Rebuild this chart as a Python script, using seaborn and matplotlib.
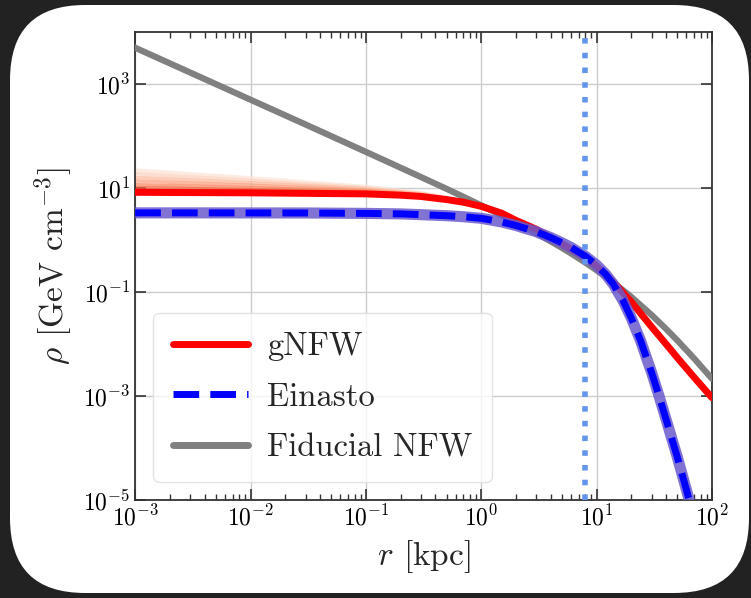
import matplotlib
matplotlib.use('Agg')
import matplotlib.pyplot as plt
from matplotlib.patches import FancyBboxPatch
from matplotlib.lines import Line2D
import seaborn as sns

# radii [kpc] and densities [GeV/cm^3]
r_nfw = [1e-3, 3e-3, 1e-2, 3e-2, 0.1, 0.3, 0.5, 1, 1.5, 2, 3, 4, 5, 6, 8, 10, 12, 15, 20, 30, 40, 50, 70, 100]
rho_nfw = [5040, 1680, 504, 168, 50.0, 16.4, 9.71, 4.68, 3.01, 2.18, 1.35, 0.947, 0.710, 0.555, 0.369,
           0.263, 0.197, 0.135, 0.0806, 0.0362, 0.0196, 0.0118, 0.00529, 0.00215]

r_gnfw = [1e-3, 3e-3, 1e-2, 3e-2, 0.1, 0.2, 0.3, 0.5, 0.7, 1, 1.5, 2, 3, 4, 5, 6, 8, 10, 12, 15, 20, 30, 40, 50, 70, 100]
rho_gnfw = [8.32, 8.22, 8.13, 7.94, 7.76, 7.33, 6.92, 6.03, 5.37, 4.47, 3.31, 2.40, 1.62, 1.12, 0.851, 0.676,
            0.468, 0.316, 0.219, 0.132, 0.0646, 0.0214, 0.0100, 0.0055, 0.00229, 0.00093]

# posterior samples of gNFW (inner part, they merge with the best fit near 1 kpc)
r_samp = [1e-3, 3e-3, 1e-2, 3e-2, 0.1, 0.3, 0.5, 1, 2]
samples = [
    [22.4, 18.9, 15.8, 13.2, 10.8, 8.18, 6.65, 4.47, 2.40],
    [19.1, 16.5, 14.2, 12.1, 10.2, 7.96, 6.55, 4.47, 2.40],
    [16.2, 14.4, 12.7, 11.2, 9.68, 7.75, 6.44, 4.47, 2.40],
    [13.8, 12.6, 11.4, 10.3, 9.18, 7.54, 6.34, 4.47, 2.40],
    [11.7, 11.0, 10.2, 9.48, 8.71, 7.34, 6.24, 4.47, 2.40],
    [10.2, 9.79, 9.33, 8.83, 8.32, 7.16, 6.15, 4.47, 2.40],
    [9.12, 8.89, 8.65, 8.32, 8.00, 7.03, 6.08, 4.47, 2.40],
]
samp_colors = ['#fde3d6', '#fcd0bc', '#fcb89c', '#fb9d7c', '#f8805c', '#f2603f', '#ea3e26']

r_ein = [1e-3, 1e-2, 3e-2, 0.1, 0.2, 0.3, 0.5, 0.7, 1, 1.5, 2, 3, 4, 5, 6, 8, 10, 12, 14, 17, 20, 24,
         30, 35, 40, 45, 50, 55, 60, 66]
rho_ein = [3.35, 3.34, 3.33, 3.27, 3.20, 3.09, 2.95, 2.82, 2.63, 2.24, 1.91, 1.45, 1.12, 0.891, 0.724,
           0.490, 0.331, 0.219, 0.141, 0.0676, 0.0316, 0.01175, 0.00282, 9.55e-4, 3.55e-4, 1.48e-4,
           6.76e-5, 3.16e-5, 1.58e-5, 7.08e-6]

r_sun = 8.0

sns.set_style('ticks')
plt.rcParams['font.family'] = 'serif'
plt.rcParams['font.serif'] = ['cmr10']
plt.rcParams['mathtext.fontset'] = 'cm'
plt.rcParams['axes.formatter.use_mathtext'] = True

fig = plt.figure(figsize=(7.51, 5.98), dpi=100)
fig.patch.set_facecolor('#222222')
card = FancyBboxPatch((10, 5), 739, 588, boxstyle='round,pad=0,rounding_size=75',
                      transform=None, facecolor='white', edgecolor='none', zorder=-5)
fig.patches.append(card)

ax = fig.add_axes([0.18, 0.164, 0.768, 0.782])
ax.set_facecolor('white')

for s, c in zip(samples, samp_colors):
    sns.lineplot(x=r_samp, y=s, ax=ax, color=c, lw=2.5, alpha=0.7, sort=False, zorder=2)

sns.lineplot(x=r_nfw, y=rho_nfw, ax=ax, color='gray', lw=4.5, sort=False, zorder=3)
sns.lineplot(x=r_gnfw, y=rho_gnfw, ax=ax, color='red', lw=5, sort=False, zorder=4)
sns.lineplot(x=r_ein, y=rho_ein, ax=ax, color='#6a5acd', lw=8, alpha=0.85, sort=False, zorder=5)
sns.lineplot(x=r_ein, y=rho_ein, ax=ax, color='blue', lw=5, linestyle='--', sort=False, zorder=6)
ax.axvline(r_sun, color='cornflowerblue', lw=4, linestyle=':', zorder=7)

ax.set_xscale('log')
ax.set_yscale('log')
ax.set_xlim(1e-3, 1e2)
ax.set_ylim(1e-5, 1e4)
ax.set_yticks([1e-5, 1e-3, 1e-1, 1e1, 1e3])
ax.grid(True, which='major', color='#cccccc', lw=1)
ax.tick_params(which='both', direction='in', top=True, right=True, colors='#333333', labelsize=17)
ax.tick_params(which='major', length=8, width=1.2)
ax.tick_params(which='minor', length=4, width=1)
ax.tick_params(axis='y', which='minor', left=False, right=False)
for sp in ax.spines.values():
    sp.set_color('#333333')
    sp.set_linewidth(1.3)
for lab in ax.get_xticklabels() + ax.get_yticklabels():
    lab.set_color('black')

ax.set_xlabel(r'$r$ [kpc]', fontsize=24, labelpad=6)
ax.set_ylabel(r'$\rho$ [GeV cm$^{-3}$]', fontsize=24, labelpad=6)

handles = [Line2D([], [], color='red', lw=5),
           Line2D([], [], color='blue', lw=5, linestyle='--'),
           Line2D([], [], color='gray', lw=5)]
leg = ax.legend(handles, ['gNFW', 'Einasto', 'Fiducial NFW'], loc='lower left',
                fontsize=23.5, frameon=True, fancybox=True, framealpha=0.8,
                edgecolor='#dddddd', handlelength=2.3, handletextpad=0.6,
                labelspacing=0.66, borderpad=0.6, borderaxespad=0.55)

fig.savefig('out.png', dpi=100, facecolor=fig.get_facecolor())
